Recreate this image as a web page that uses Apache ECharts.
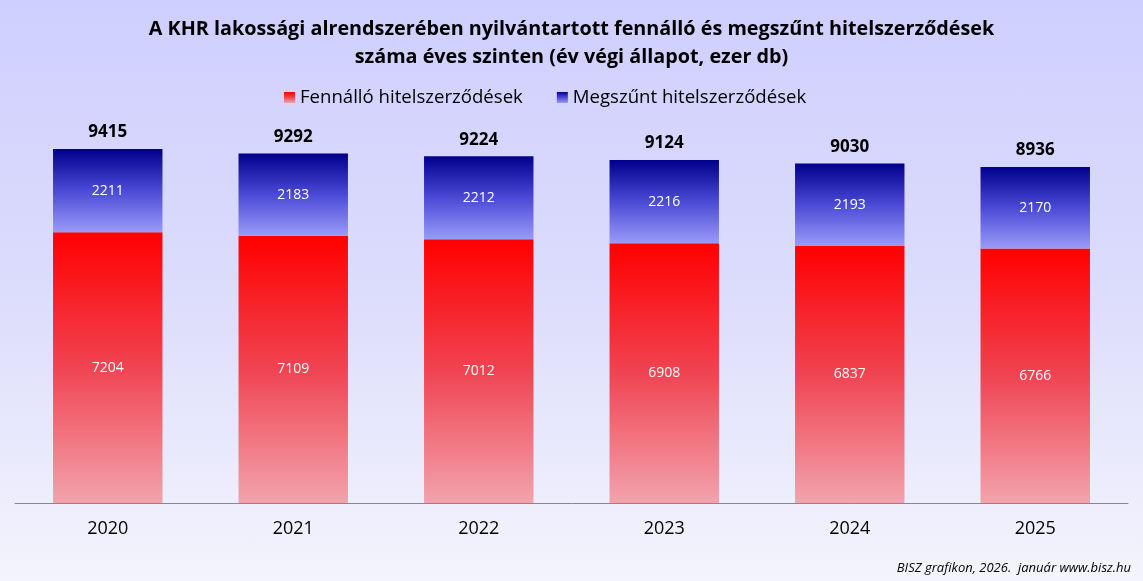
<!DOCTYPE html>
<html>
<head>
<meta charset="utf-8">
<script src="https://cdn.jsdelivr.net/npm/echarts@6/dist/echarts.min.js"></script>
<style>
html,body{margin:0;padding:0;width:1143px;height:581px;overflow:hidden;}
body{background:linear-gradient(to bottom,#CFCFFF 0%,#DCDCFC 50%,#F4F4FD 100%);}
#chart{width:1143px;height:581px;}
</style>
</head>
<body>
<div id="chart"></div>
<script>
const years = ['2020','2021','2022','2023','2024','2025'];
const fennallo = [7204, 7109, 7012, 6908, 6837, 6766];
const megszunt = [2211, 2183, 2212, 2216, 2193, 2170];
const totals = [9415, 9292, 9224, 9124, 9030, 8936];

const font = '"Open Sans", "Noto Sans", sans-serif';
const chart = echarts.init(document.getElementById('chart'));
chart.setOption({
  backgroundColor: 'transparent',
  animation: false,
  title: {
    text: 'A KHR lakossági alrendszerében nyilvántartott fennálló és megszűnt hitelszerződések\nszáma éves szinten (év végi állapot, ezer db)',
    left: 'center', top: 10,
    textStyle: { fontFamily: font, fontSize: 19.8, fontWeight: 'bold', color: '#000', lineHeight: 28 }
  },
  legend: {
    top: 83, left: 279,
    itemWidth: 11, itemHeight: 11, itemGap: 34,
    data: ['Fennálló hitelszerződések', 'Megszűnt hitelszerződések'],
    textStyle: { fontFamily: font, fontSize: 18.6, color: '#000' },
    icon: 'rect'
  },
  grid: { left: 15, right: 15, top: 127, bottom: 78 },
  xAxis: {
    type: 'category', data: years,
    axisLine: { lineStyle: { color: '#888', width: 1 } },
    axisTick: { show: false },
    axisLabel: { fontFamily: font, fontSize: 18, color: '#000', margin: 17 }
  },
  yAxis: { type: 'value', min: 0, max: 10000, show: false, splitLine: { show: false } },
  series: [
    {
      name: 'Fennálló hitelszerződések', type: 'bar', stack: 'a', barWidth: '59%',
      data: fennallo,
      itemStyle: { color: new echarts.graphic.LinearGradient(0, 0, 0, 1, [
        { offset: 0, color: '#FF0000' },
        { offset: 0.5, color: '#F04452' },
        { offset: 1, color: '#F2A3AD' }
      ]) },
      label: { show: true, position: 'inside', color: '#fff', fontFamily: font, fontSize: 14 }
    },
    {
      name: 'Megszűnt hitelszerződések', type: 'bar', stack: 'a',
      data: megszunt,
      itemStyle: { color: new echarts.graphic.LinearGradient(0, 0, 0, 1, [
        { offset: 0, color: '#00008C' },
        { offset: 0.5, color: '#4A4AD6' },
        { offset: 1, color: '#9A9AF8' }
      ]) },
      label: { show: true, position: 'inside', color: '#fff', fontFamily: font, fontSize: 14 }
    },
    {
      name: 'total', type: 'bar', stack: 'a',
      data: years.map(() => 0),
      itemStyle: { color: 'transparent' },
      label: {
        show: true, position: 'top', distance: 8,
        color: '#000', fontFamily: font, fontSize: 17, fontWeight: 'bold',
        formatter: p => totals[p.dataIndex]
      }
    }
  ],
  graphic: [{
    type: 'text', right: 12, bottom: 6,
    style: { text: 'BISZ grafikon, 2026.  január www.bisz.hu', fontFamily: font, fontSize: 13, fontStyle: 'italic', fill: '#000' }
  }]
});
</script>
</body>
</html>
